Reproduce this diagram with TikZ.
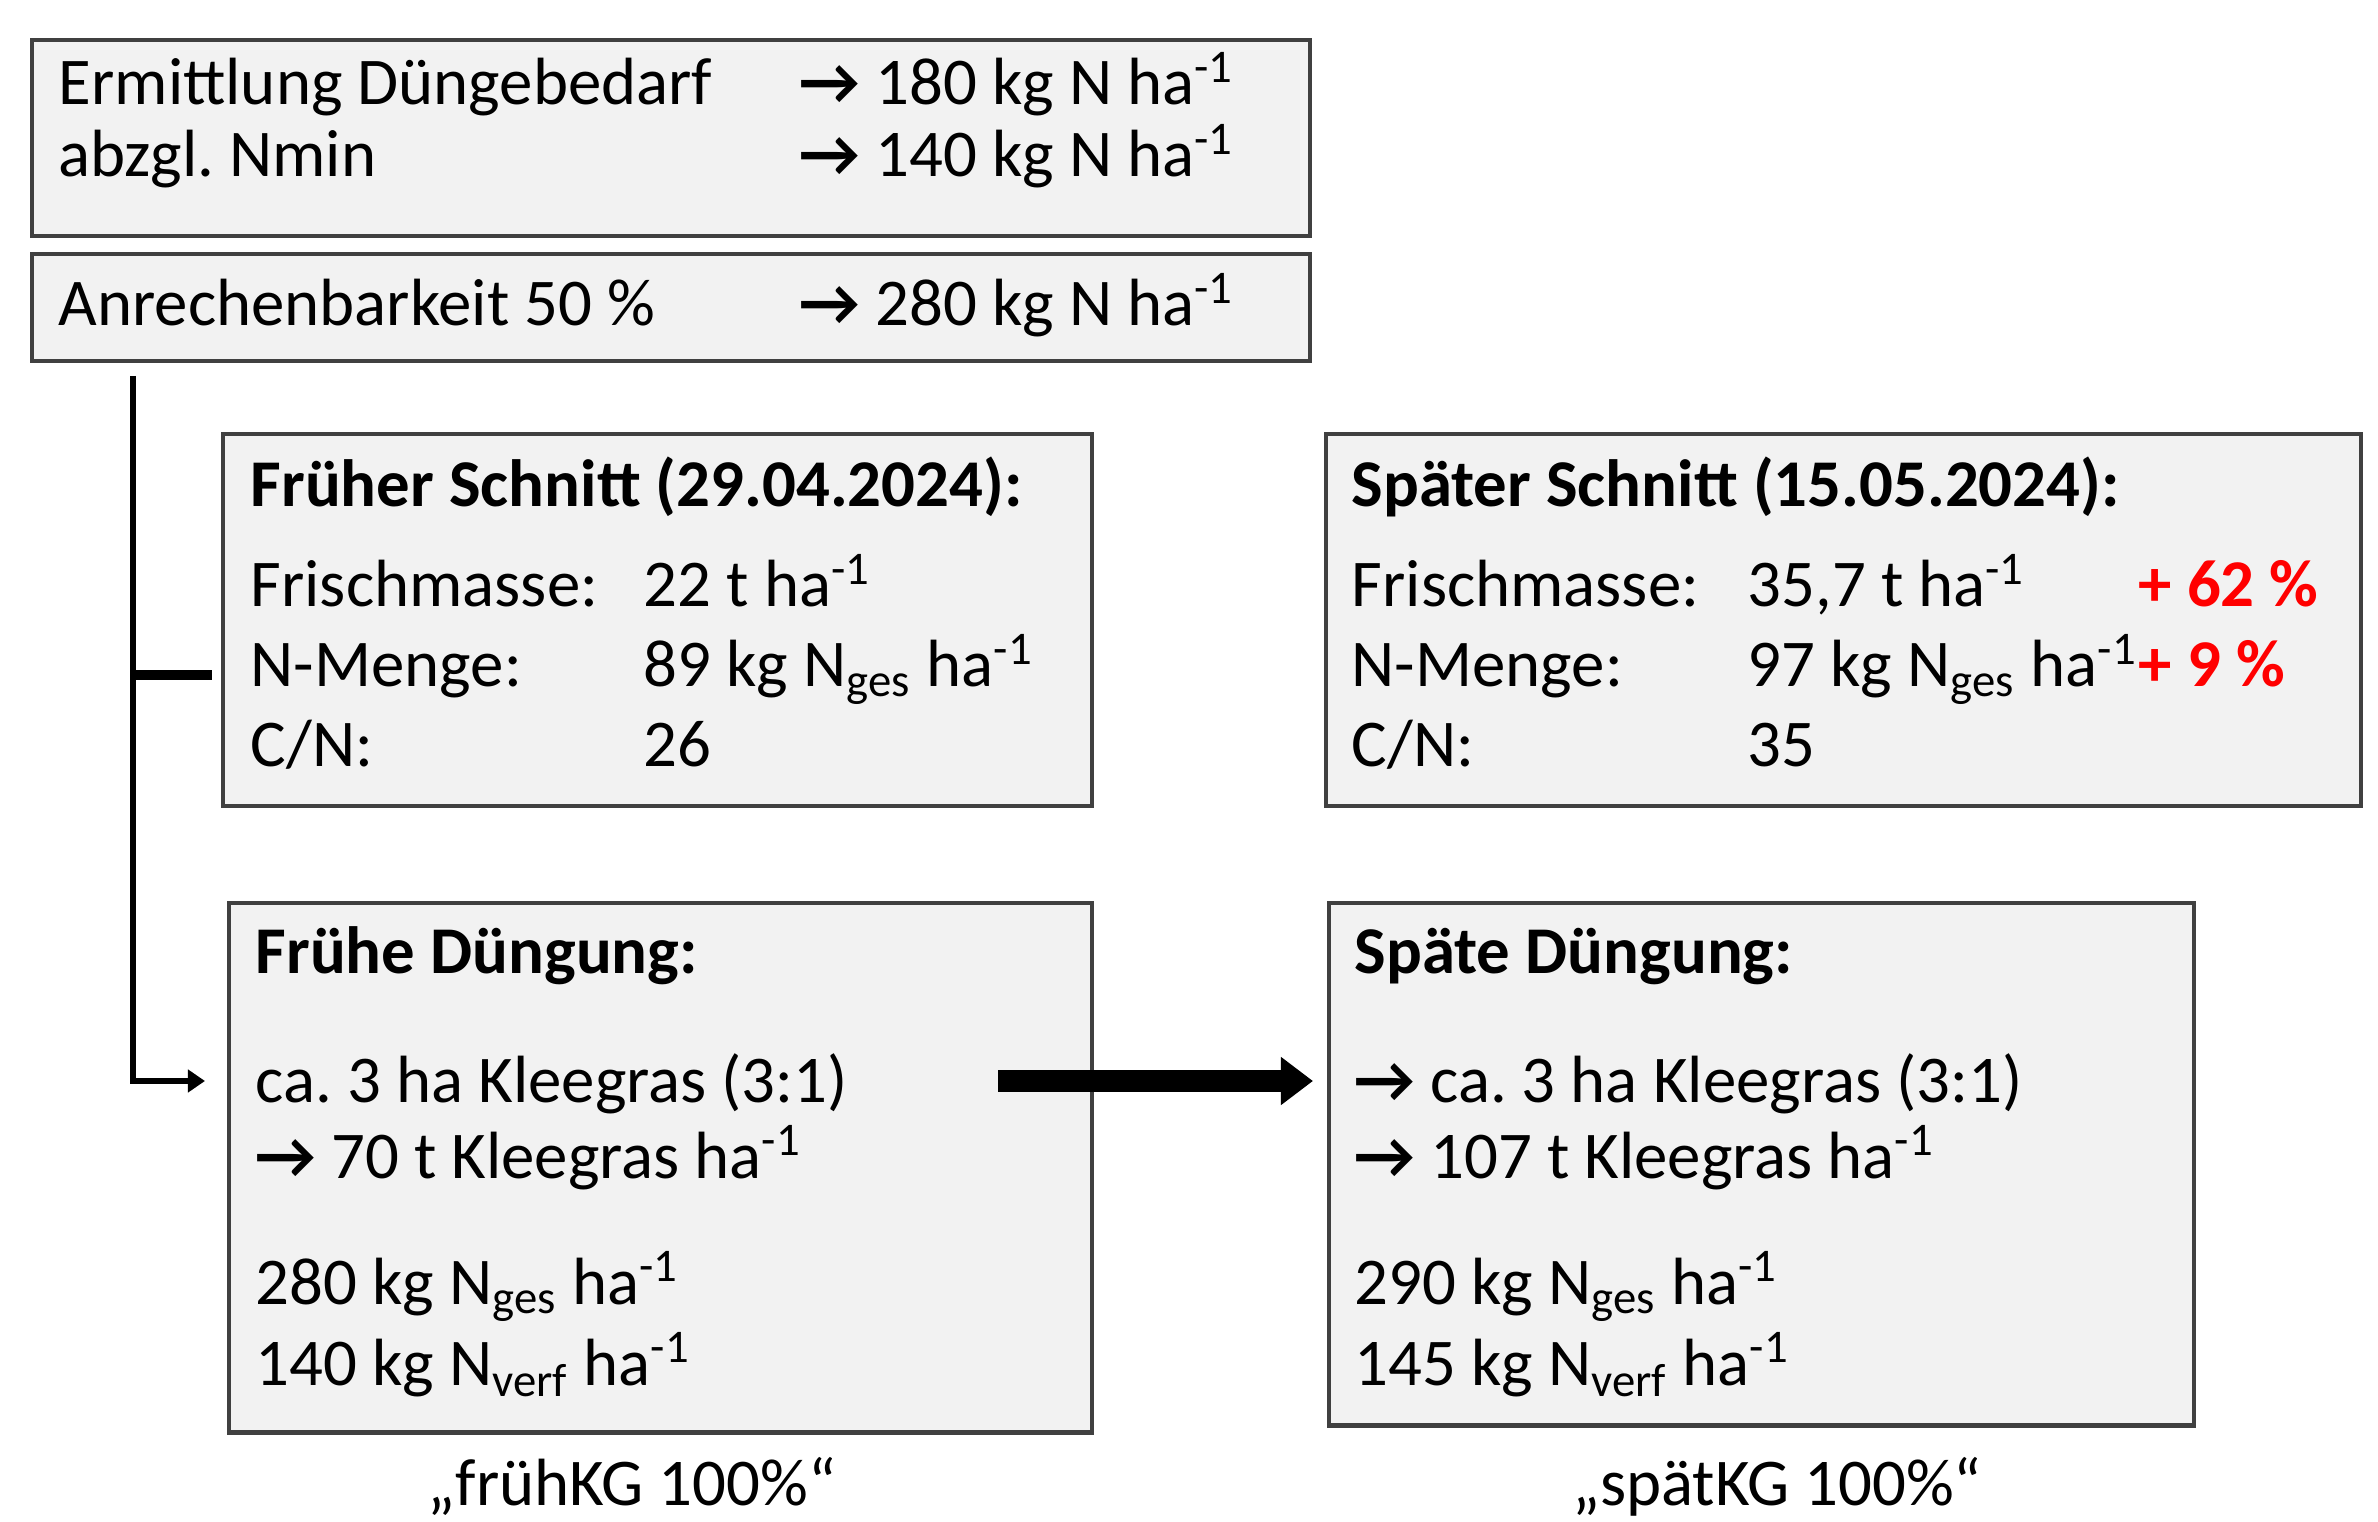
\documentclass[tikz,border=0pt]{standalone}
\usepackage{fontspec}
\setmainfont{Carlito}
\usetikzlibrary{arrows.meta}
\usetikzlibrary{positioning}

\definecolor{boxfill}{HTML}{F2F2F2}
\definecolor{boxline}{HTML}{404040}
\definecolor{plusred}{HTML}{FF0000}

\newcommand{\perha}{ha\textsuperscript{-1}}
\newcommand{\Nsub}[1]{N\textsubscript{#1}}
\newcommand{\ra}{\textbf{→}}

\tikzset{
    box/.style={rectangle, draw=boxline, fill=boxfill, line width=1.2pt, anchor=north west, inner sep=0pt},
    txt/.style={anchor=base west, inner sep=0pt},
    trunk/.style={line width=1.5pt},
}

\begin{document}
\frenchspacing
\begin{tikzpicture}[x=0.01cm, y=-0.01cm, font=\fontsize{19}{23}\selectfont]
    \useasboundingbox (0,0) rectangle (2378,1522);

    % boxes
    \node[box, minimum width=12.77cm, minimum height=1.96cm] (need) at (30,38) {};
    \node[box, minimum width=12.77cm, minimum height=1.07cm] (anr) at (30,252) {};
    \node[box, minimum width=8.68cm, minimum height=3.72cm] (fschnitt) at (221,432) {};
    \node[box, minimum width=10.34cm, minimum height=3.72cm] (sschnitt) at (1324,432) {};
    \node[box, minimum width=8.62cm, minimum height=5.29cm] (fdueng) at (227,901) {};
    \node[box, minimum width=8.64cm, minimum height=5.22cm] (sdueng) at (1327,901) {};

    % top boxes
    \draw (58,105) node[txt] (need1) {Ermittlung Düngebedarf};
    \draw (799,105) node[txt] (need2) {\ra{} 180 kg N \perha};
    \draw (58,177) node[txt] (need3) {abzgl. Nmin};
    \draw (799,177) node[txt] (need4) {\ra{} 140 kg N \perha};
    \draw (58,326) node[txt] (anr1) {Anrechenbarkeit 50 \%};
    \draw (799,326) node[txt] (anr2) {\ra{} 280 kg N \perha};

    % Schnitt
    \draw (250,507) node[txt] (fs0) {\bfseries Früher Schnitt (29.04.2024):};
    \draw (1351,507) node[txt] (ss0) {\bfseries Später Schnitt (15.05.2024):};
    \foreach \lab/\fval/\sval [count=\i] in {Frischmasse:/{22 t \perha}/{35,7 t \perha},
                                             N-Menge:/{89 kg \Nsub{ges} \perha}/{97 kg \Nsub{ges} \perha},
                                             {C/N:}/26/35}{
        \draw (250,527+80*\i) node[txt] (fs\i) {\lab};
        \draw (643,527+80*\i) node[txt] (fv\i) {\fval};
        \draw (1351,527+80*\i) node[txt] (ss\i) {\lab};
        \draw (1747,527+80*\i) node[txt] (sv\i) {\sval};
    }
    \draw (2138,607) node[txt, text=plusred] (plus1) {\bfseries + 62 \%};
    \draw (2138,687) node[txt, text=plusred] (plus2) {\bfseries + 9 \%};

    % Duengung
    \draw (255,974) node[txt] (fd0) {\bfseries Frühe Düngung:};
    \draw (255,1103) node[txt] (fd1) {ca. 3 ha Kleegras (3:1)};
    \draw (255,1178) node[txt] (fd2) {\ra{} 70 t Kleegras \perha};
    \draw (255,1304) node[txt] (fd3) {280 kg \Nsub{ges} \perha};
    \draw (255,1385) node[txt] (fd4) {140 kg \Nsub{verf} \perha};

    \draw (1354,974) node[txt] (sd0) {\bfseries Späte Düngung:};
    \draw (1354,1103) node[txt] (sd1) {\ra{} ca. 3 ha Kleegras (3:1)};
    \draw (1354,1178) node[txt] (sd2) {\ra{} 107 t Kleegras \perha};
    \draw (1354,1304) node[txt] (sd3) {290 kg \Nsub{ges} \perha};
    \draw (1354,1385) node[txt] (sd4) {145 kg \Nsub{verf} \perha};

    \node[anchor=base] (lfrueh) at (632,1505) {„frühKG 100\%“};
    \node[anchor=base] (lspaet) at (1777,1505) {„spätKG 100\%“};

    % connectors
    \coordinate (top) at (133,376);
    \coordinate (br) at (133,675);
    \coordinate (ts) at (998,1081);
    \draw[trunk, -{Triangle[length=0.17cm,width=0.22cm]}, shorten >=0.22cm] (top) |- (fdueng.west |- ts);
    \draw[line width=2.6pt, shorten >=0.09cm] (br) -- (br -| fschnitt.west);
    \draw[line width=6.5pt, -{Triangle[length=0.32cm,width=0.46cm]}, shorten >=0.14cm] (ts) -- (sdueng.west |- ts);
\end{tikzpicture}
\end{document}
